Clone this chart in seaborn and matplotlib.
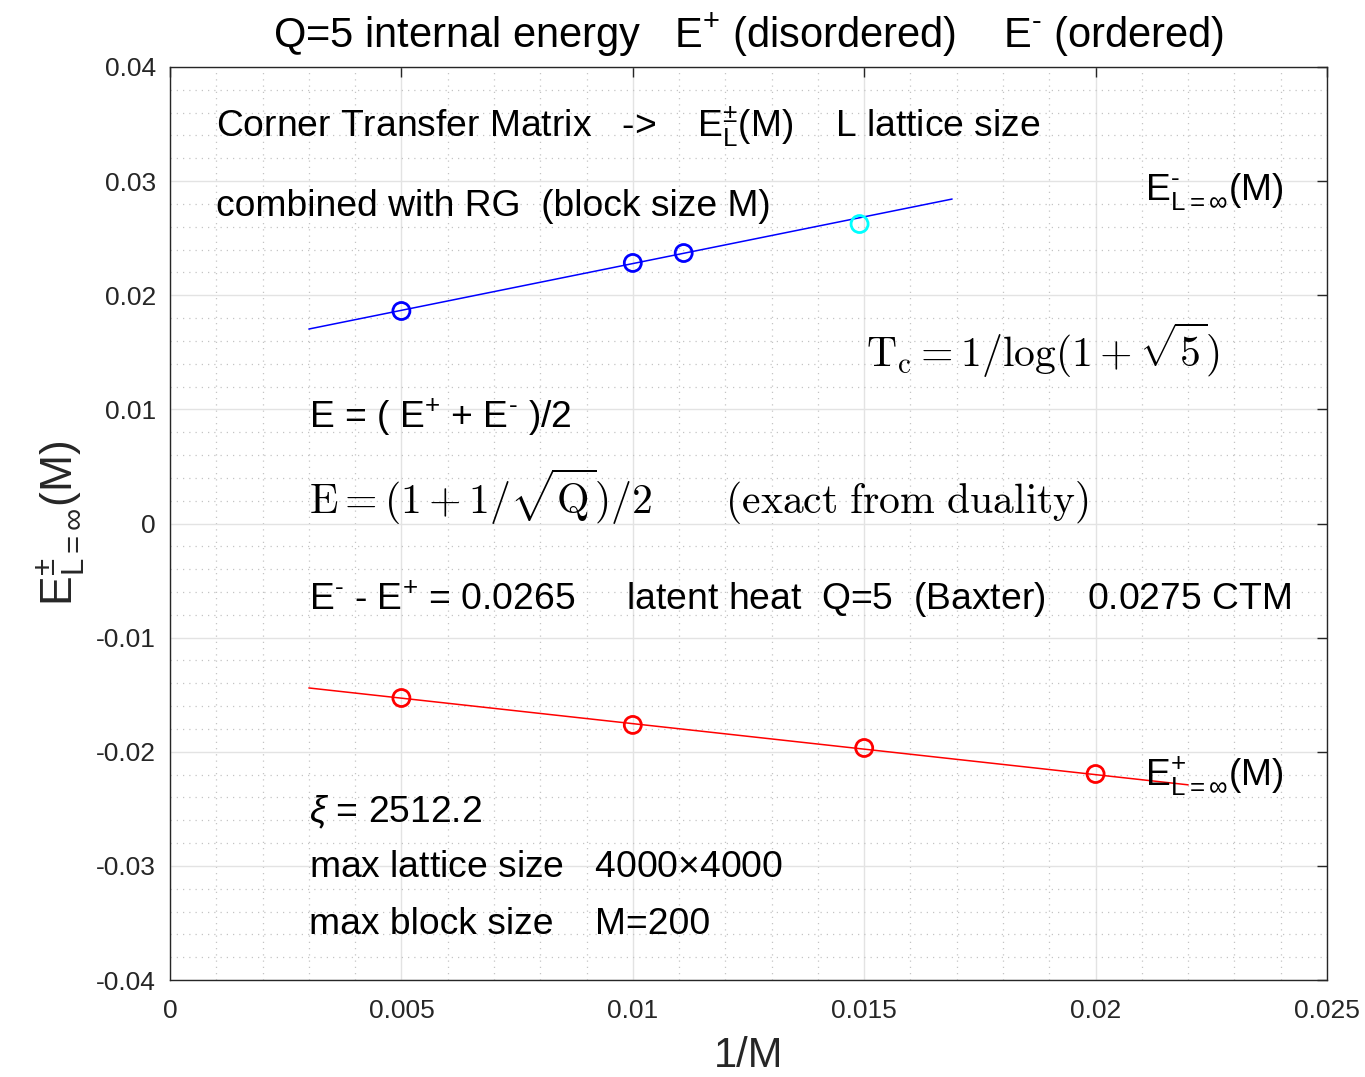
import numpy as np
import pandas as pd
import matplotlib
matplotlib.use("Agg")
import matplotlib.pyplot as plt
from matplotlib.ticker import MultipleLocator, FixedLocator
import seaborn as sns

# ---- data ----
blue_x = [0.005, 0.010, 0.0111]
blue_y = [0.01862, 0.02283, 0.0237]
cyan_x = [0.0149]
cyan_y = [0.02624]
red_x = [0.005, 0.010, 0.015, 0.020]
red_y = [-0.01529, -0.01765, -0.01967, -0.02195]
bfit_x = [0.003, 0.0169]
bfit_y = [0.01704, 0.02843]
rfit_x = [0.003, 0.022]
rfit_y = [-0.01441, -0.0229]
xticks = [0, 0.005, 0.01, 0.015, 0.02, 0.025]
xticklabels = ["0", "0.005", "0.01", "0.015", "0.02", "0.025"]
yticks = [-0.04, -0.03, -0.02, -0.01, 0, 0.01, 0.02, 0.03, 0.04]
yticklabels = ["-0.04", "-0.03", "-0.02", "-0.01", "0", "0.01", "0.02", "0.03", "0.04"]

sns.set_style("white")
plt.rcParams['font.family'] = ['Liberation Sans', 'DejaVu Sans']
plt.rcParams['mathtext.fontset'] = 'custom'
plt.rcParams['mathtext.rm'] = 'Liberation Sans'
plt.rcParams['mathtext.it'] = 'Liberation Sans:italic'
plt.rcParams['mathtext.bf'] = 'Liberation Sans:bold'

fig = plt.figure(figsize=(13.65, 10.77), dpi=100)
ax = fig.add_axes([170/1365, 1-980/1077, (1327-170)/1365, (980-67)/1077])

sns.lineplot(x=bfit_x, y=bfit_y, color='blue', lw=1.1, ax=ax, zorder=3)
sns.lineplot(x=rfit_x, y=rfit_y, color='red', lw=1.1, ax=ax, zorder=3)
sns.scatterplot(x=blue_x, y=blue_y, marker='o', s=150, facecolor='none',
                edgecolor='blue', linewidth=2.0, ax=ax, zorder=4)
sns.scatterplot(x=cyan_x, y=cyan_y, marker='o', s=150, facecolor='none',
                edgecolor='cyan', linewidth=2.0, ax=ax, zorder=4)
sns.scatterplot(x=red_x, y=red_y, marker='o', s=150, facecolor='none',
                edgecolor='red', linewidth=2.0, ax=ax, zorder=4)

ax.set_xlim(0, 0.025)
ax.set_ylim(-0.04, 0.04)
ax.xaxis.set_major_locator(FixedLocator(xticks))
ax.yaxis.set_major_locator(FixedLocator(yticks))
ax.set_xticklabels(xticklabels)
ax.set_yticklabels(yticklabels)
ax.xaxis.set_minor_locator(MultipleLocator(0.001))
ax.yaxis.set_minor_locator(MultipleLocator(0.002))
ax.grid(True, which='major', color='#e3e3e3', lw=1.0, ls='-', zorder=0)
ax.grid(True, which='minor', color='#c4c4c4', lw=0.9, ls=(0, (1, 4)), zorder=0)
ax.set_axisbelow(True)
ax.tick_params(which='major', direction='in', length=7, width=1.0, color='#262626',
               top=True, right=True, labelsize=19, labelcolor='#262626')
ax.tick_params(axis='x', which='major', pad=14)
ax.tick_params(axis='y', which='major', pad=10)
ax.tick_params(which='minor', length=0, top=True, right=True)
for s in ax.spines.values():
    s.set_color('#262626')
    s.set_linewidth(1.0)

ax.set_title(r'Q=5 internal energy   E$^{+}$ (disordered)    E$^{\text{-}}$ (ordered)',
             fontsize=30, pad=14, color='black')
ax.set_xlabel('1/M', fontsize=30, labelpad=9, color='#262626')
ax.set_ylabel(r'E$^{\pm}_{\mathrm{L{=}\infty}}$(M)', fontsize=32, labelpad=6, color='#262626')

fs = 26.8
tc = 'black'
ax.text(0.001, 0.03474, r'Corner Transfer Matrix   ->    E$^{\pm}_{\mathrm{L}}$(M)    L lattice size',
        fontsize=fs, va='center', ha='left', color=tc)
ax.text(0.001, 0.02782, 'combined with RG  (block size M)', fontsize=fs, va='center', ha='left', color=tc)
ax.text(0.02107, 0.02905, r'E$^{\text{-}}_{\mathrm{L{=}\infty}}$(M)', fontsize=fs, va='center', ha='left', color=tc)
ax.text(0.01504, 0.0152, r'$\mathrm{T_c} = 1/\log(1+\sqrt{5})$', fontsize=30,
        va='center', ha='left', math_fontfamily='cm', color=tc)
ax.text(0.003, 0.00933, r'E = ( E$^{+}$ + E$^{\text{-}}$ )/2', fontsize=fs, va='center', ha='left', color=tc)
ax.text(0.003, 0.00232, r'$\mathrm{E} = (1+1/\sqrt{\mathrm{Q}})/2\qquad\mathrm{(exact\ from\ duality)}$',
        fontsize=30, va='center', ha='left', math_fontfamily='cm', color=tc)
ax.text(0.003, -0.00662, r'E$^{\text{-}}$ - E$^{+}$ = 0.0265     latent heat  Q=5  (Baxter)    0.0275 CTM',
        fontsize=fs, va='center', ha='left', color=tc)
ax.text(0.02107, -0.02212, r'E$^{+}_{\mathrm{L{=}\infty}}$(M)', fontsize=fs, va='center', ha='left', color=tc)
ax.text(0.003, -0.02528, r'$\xi$ = 2512.2', fontsize=fs, va='center', ha='left', color=tc)
ax.text(0.003, -0.03018, r'max lattice size   4000$\times$4000', fontsize=fs, va='center', ha='left', color=tc)
ax.text(0.003, -0.03518, 'max block size    M=200', fontsize=fs, va='center', ha='left', color=tc)

fig.savefig('out.png', dpi=100)
